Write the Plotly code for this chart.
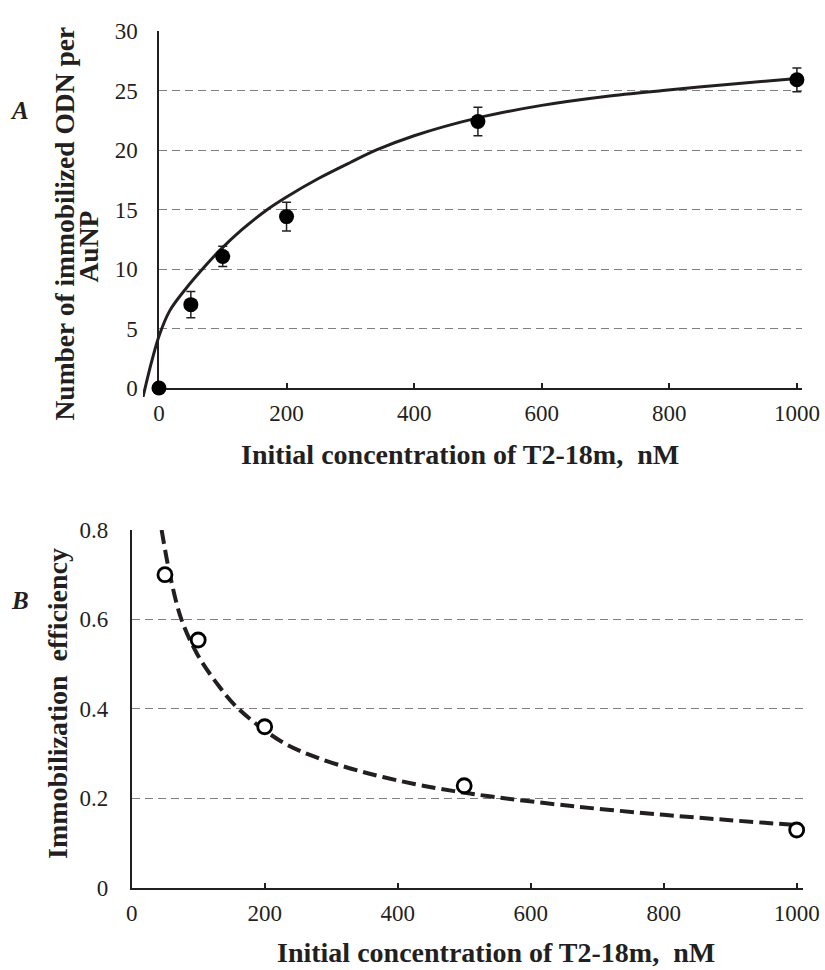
import plotly.graph_objects as go

# ---------------- data ----------------
conc_a = [0, 50, 100, 200, 500, 1000]
odn_per_np = [0, 7.0, 11.05, 14.4, 22.4, 25.9]
odn_err = [0, 1.1, 0.85, 1.2, 1.2, 1.0]
fit_a_x = [-25, -12, 0, 17, 43, 70, 96, 130, 170, 200, 250, 300, 341, 400, 500, 600, 700, 790, 900, 1000]
fit_a_y = [-0.76, 2.1, 4.35, 6.5, 8.4, 10.1, 11.6, 13.3, 15.0, 16.05, 17.6, 18.95, 20.0, 21.2, 22.7, 23.75, 24.5, 25.0, 25.55, 26.0]

conc_b = [50, 100, 200, 500, 1000]
efficiency = [0.70, 0.554, 0.36, 0.228, 0.129]
fit_b_x = [45, 58, 75, 98, 128, 160, 225, 275, 345, 425, 485, 535, 665, 800, 900, 1000]
fit_b_y = [0.80, 0.696, 0.599, 0.524, 0.457, 0.401, 0.327, 0.293, 0.26, 0.232, 0.216, 0.205, 0.182, 0.163, 0.151, 0.14]

ticks_a_y = [0, 5, 10, 15, 20, 25, 30]
ticks_a_x = [0, 200, 400, 600, 800, 1000]
ticks_b_y = [0, 0.2, 0.4, 0.6, 0.8]
ticks_b_x = [0, 200, 400, 600, 800, 1000]

W, H = 825, 970
def fx(p):
    return p / W
def fy(p):
    return 1 - p / H

FONT = "Liberation Serif"
INK = "#231f20"
GRID = "#808080"
TICK_SIZE = 23

fig = go.Figure()
fig.add_trace(go.Scatter(x=[], y=[], xaxis="x", yaxis="y", mode="markers",
                         showlegend=False, hoverinfo="skip"))
fig.add_trace(go.Scatter(
    x=fit_a_x, y=fit_a_y, mode="lines", xaxis="x2", yaxis="y2",
    line=dict(color=INK, width=3, shape="spline", smoothing=0.9),
    showlegend=False, hoverinfo="skip"))
fig.add_trace(go.Scatter(
    x=conc_a, y=odn_per_np, mode="markers", xaxis="x2", yaxis="y2",
    marker=dict(color="black", size=15, symbol="circle"),
    error_y=dict(type="data", array=odn_err, visible=True, color=INK, thickness=1.5, width=4.5),
    cliponaxis=False, showlegend=False))
fig.add_trace(go.Scatter(
    x=fit_b_x, y=fit_b_y, mode="lines", xaxis="x3", yaxis="y3",
    line=dict(color=INK, width=4, dash="14px,6px", shape="spline", smoothing=1.0),
    showlegend=False, hoverinfo="skip"))
fig.add_trace(go.Scatter(
    x=conc_b, y=efficiency, mode="markers", xaxis="x3", yaxis="y3",
    marker=dict(color="white", size=14, symbol="circle", line=dict(color="black", width=2.8)),
    cliponaxis=False, showlegend=False))

A_L, A_R, A_T, A_B0 = 159, 802, 31, 388
B_L, B_R, B_T, B_B0 = 131.7, 803, 530, 887.7

def axis_x(dom, rng, anchor, vals):
    return dict(domain=dom, range=rng, anchor=anchor, tickmode="array", tickvals=vals,
                ticks="inside", ticklen=5, tickwidth=1.5, tickcolor=INK,
                showline=True, linecolor=INK, linewidth=1.5, showgrid=False, zeroline=False,
                tickfont_family=FONT, tickfont_size=TICK_SIZE, tickfont_color=INK,
                ticklabelstandoff=4, fixedrange=True)

def axis_y(dom, rng, anchor, vals, text, standoff):
    return dict(domain=dom, range=rng, anchor=anchor, tickmode="array", tickvals=vals, ticktext=text,
                ticks="", showline=True, linecolor=INK, linewidth=1.5,
                showgrid=True, gridcolor=GRID, gridwidth=1, griddash="8px,5px", zeroline=False,
                tickfont_family=FONT, tickfont_size=TICK_SIZE, tickfont_color=INK,
                ticklabelstandoff=standoff, fixedrange=True)

fig.update_layout(
    xaxis=axis_x([fx(A_L), fx(A_R)], [0, 1008], "y", ticks_a_x),
    yaxis=axis_y([fy(A_B0), fy(A_T)], [0, 30], "x", ticks_a_y, [str(v) for v in ticks_a_y], 15),
    xaxis2=dict(domain=[fx(143), fx(A_R)], range=[-25, 1008], anchor="y2", visible=False),
    yaxis2=dict(domain=[fy(397), fy(A_T)], range=[-0.76, 30], anchor="x2", visible=False),
    xaxis3=axis_x([fx(B_L), fx(B_R)], [0, 1009.5], "y3", ticks_b_x),
    yaxis3=axis_y([fy(B_B0), fy(B_T)], [0, 0.8], "x3", ticks_b_y, ["0", "0.2", "0.4", "0.6", "0.8"], 17),
)

xtitle_font = dict(family=FONT, size=28, color=INK)
ytitle_font = dict(family=FONT, size=27.5, color=INK)
ann = []
def add_text(text, x, y, angle=0, font=xtitle_font):
    ann.append(dict(text=text, x=fx(x), y=fy(y), xref="paper", yref="paper",
                    xanchor="center", yanchor="middle", showarrow=False,
                    textangle=angle, font=font))

add_text("<b>Initial concentration of T2-18m,\u00a0\u00a0nM</b>", 459.5, 454)
add_text("<b>Initial concentration of T2-18m,\u00a0\u00a0nM</b>", 495.7, 952)
add_text("<b>Number of immobilized ODN per</b>", 64, 223.5, angle=-90, font=ytitle_font)
add_text("<b>AuNP</b>", 88, 246.5, angle=-90, font=ytitle_font)
add_text("<b>Immobilization\u00a0\u00a0efficiency</b>", 57, 704, angle=-90,
         font=dict(family=FONT, size=28, color=INK))
label_font = dict(family=FONT, size=25, color=INK)
add_text("<b><i>A</i></b>", 19, 110, font=label_font)
add_text("<b><i>B</i></b>", 20, 600, font=label_font)

fig.update_layout(
    annotations=ann,
    width=W, height=H, autosize=False,
    margin=dict(l=0, r=0, t=0, b=0, pad=0, autoexpand=False),
    paper_bgcolor="white", plot_bgcolor="rgba(0,0,0,0)",
    showlegend=False,
    font=dict(family=FONT, size=TICK_SIZE, color=INK),
)

fig.write_html("out.html")
